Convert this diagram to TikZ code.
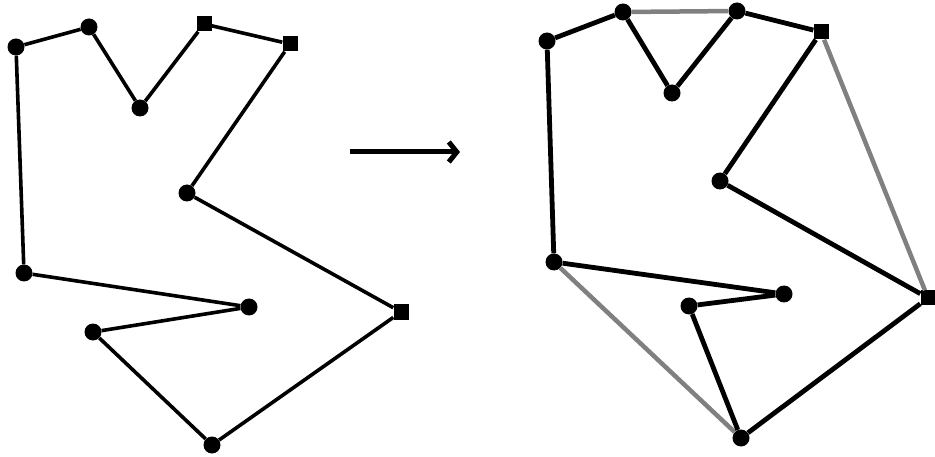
\documentclass[tikz,border=0pt]{standalone}
\usetikzlibrary{arrows.meta}
\begin{document}
\begin{tikzpicture}[x=1pt,y=-1pt,
  dot/.style={circle,fill=black,inner sep=0pt,minimum size=17pt},
  sqdot/.style={rectangle,fill=black,inner sep=0pt,minimum size=15pt},
  thinedge/.style={line width=3.6pt,black},
  thickedge/.style={line width=4.8pt,black},
  hulledge/.style={line width=4.5pt,black!50},
  bigarrow/.style={line width=5pt,-{Straight Barb[length=8pt,width=20pt,line width=5pt]}}]
\useasboundingbox (0,0) rectangle (935,457);
% left polygon
\node[dot] (a1) at (16,47) {};
\node[dot] (a2) at (89,27) {};
\node[dot] (a3) at (140,108) {};
\node[sqdot] (a4) at (204,24) {};
\node[sqdot] (a5) at (290,44) {};
\node[dot] (a6) at (187,193) {};
\node[sqdot] (a7) at (401,312) {};
\node[dot] (a8) at (212,445) {};
\node[dot] (a9) at (93,332) {};
\node[dot] (a10) at (249,307) {};
\node[dot] (a11) at (24,273) {};
\draw[thinedge] (a1)--(a2)--(a3)--(a4)--(a5)--(a6)--(a7)--(a8)--(a9)--(a10)--(a11)--(a1);
% arrow
\coordinate (s) at (350,152);
\coordinate (e) at (460,152);
\draw[bigarrow] (s)--(e);
% right polygon
\node[dot] (b1) at (547,41) {};
\node[dot] (b2) at (623,12) {};
\node[dot] (b3) at (672,93) {};
\node[dot] (b4) at (737,11) {};
\node[sqdot] (b5) at (821,32) {};
\node[dot] (b6) at (720,181) {};
\node[sqdot] (b7) at (928,298) {};
\node[dot] (b8) at (741,438) {};
\node[dot] (b9) at (689,306) {};
\node[dot] (b10) at (784,294) {};
\node[dot] (b11) at (554,262) {};
\draw[hulledge] (b2)--(b4);
\draw[hulledge] (b5)--(b7);
\draw[hulledge] (b11)--(b8);
\draw[thickedge] (b1)--(b2)--(b3)--(b4)--(b5)--(b6)--(b7)--(b8)--(b9)--(b10)--(b11)--(b1);
\end{tikzpicture}
\end{document}
